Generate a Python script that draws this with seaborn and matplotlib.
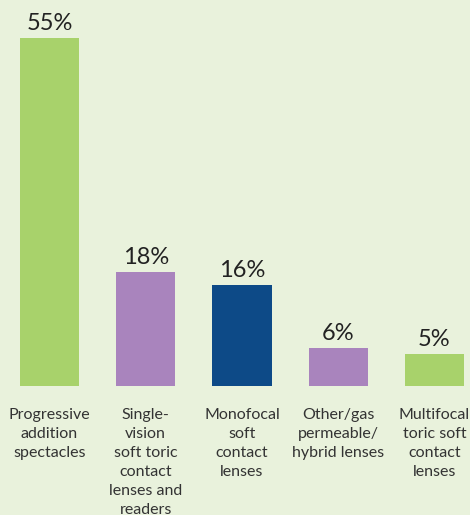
import numpy as np
import pandas as pd
import seaborn as sns
import matplotlib.pyplot as plt

# data
categories = ["Progressive\naddition\nspectacles",
              "Single-\nvision\nsoft toric\ncontact\nlenses and\nreaders",
              "Monofocal\nsoft\ncontact\nlenses",
              "Other/gas\npermeable/\nhybrid lenses",
              "Multifocal\ntoric soft\ncontact\nlenses"]
values = [55, 18, 16, 6, 5]
bar_colors = ["#a8d26b", "#a984bd", "#0d4a87", "#a984bd", "#a8d26b"]

bg = "#e9f2dc"
text_col = "#333333"

sns.set_style("white")
plt.rcParams['font.family'] = ['Lato', 'DejaVu Sans']

df = pd.DataFrame({"cat": categories, "val": values})

fig = plt.figure(figsize=(4.7, 5.15), dpi=100, facecolor=bg)
ax = fig.add_axes([0, 129 / 515, 1, 386 / 515])
ax.set_facecolor(bg)

sns.barplot(data=df, x="cat", y="val", hue="cat", palette=bar_colors,
            legend=False, width=0.615, saturation=1, linewidth=0, ax=ax)

for c in ax.containers:
    ax.bar_label(c, labels=[f"{v:.0f}%" for v in c.datavalues], padding=3,
                 fontsize=17, color="#222222")

ax.set_xlim(-0.514, 4.369)
ax.set_ylim(0, 61)
ax.set_xlabel("")
ax.set_ylabel("")
ax.set_yticks([])
ax.tick_params(axis="x", length=0, pad=16, labelsize=11.5, labelcolor=text_col)
for lbl in ax.get_xticklabels():
    lbl.set_multialignment("center")
    lbl.set_linespacing(1.45)

for s in ax.spines.values():
    s.set_visible(False)

fig.savefig("out.png", dpi=100, facecolor=bg)
